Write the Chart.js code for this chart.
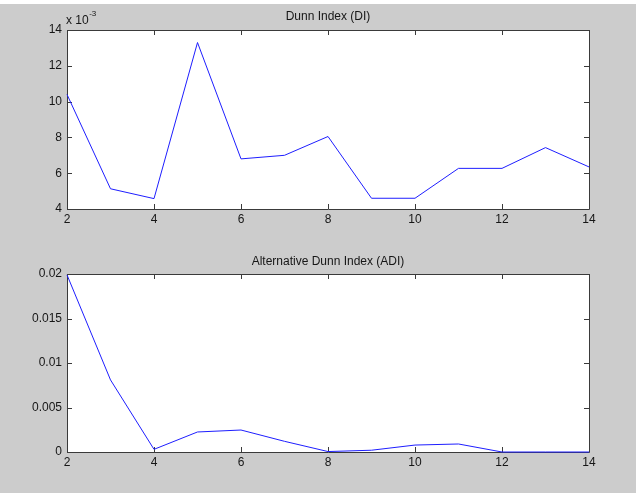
<!DOCTYPE html>
<html>
<head>
<meta charset="utf-8">
<script src="https://cdn.jsdelivr.net/npm/chart.js@4.4.1/dist/chart.umd.min.js"></script>
<style>
  html, body { margin: 0; padding: 0; background: #ffffff; }
  #fig { position: absolute; left: 0; top: 4px; width: 636px; height: 489px; background: #cccccc; }
  .panel { position: absolute; left: 0; width: 639px; }
  #p1 { top: 0; height: 246px; }
  #p2 { top: 246px; height: 247px; }
</style>
</head>
<body>
<div id="fig"></div>
<div class="panel" id="p1"><canvas id="c1"></canvas></div>
<div class="panel" id="p2"><canvas id="c2"></canvas></div>
<script>
// ---- data ----
const clusters = [2, 3, 4, 5, 6, 7, 8, 9, 10, 11, 12, 13, 14];
// Dunn Index, in units of 10^-3
const diValues = [10.4, 5.13, 4.58, 13.3, 6.8, 7.0, 8.05, 4.6, 4.6, 6.27, 6.27, 7.43, 6.35];
// Alternative Dunn Index
const adiValues = [0.0199, 0.0081, 0.0003, 0.00225, 0.00247, 0.0012, 0.00005, 0.0002, 0.00078, 0.0009, 0.0, 0.0, 0.0];
const xTicks = [2, 4, 6, 8, 10, 12, 14];
const diTicks = [4, 6, 8, 10, 12, 14];
const adiTicks = [0, 0.005, 0.01, 0.015, 0.02];
const diTitle = 'Dunn Index (DI)';
const adiTitle = 'Alternative Dunn Index (ADI)';
const diExponent = '-3';

const FONT = '"Liberation Sans", Arial, Helvetica, sans-serif';
const AXIS_COLOR = '#3a3a3a';
const TEXT_COLOR = '#161616';

const matlabAxes = {
  id: 'matlabAxes',
  beforeDraw(chart) {
    const { ctx, chartArea: a } = chart;
    ctx.save();
    ctx.fillStyle = '#ffffff';
    ctx.fillRect(a.left, a.top, a.right - a.left, a.bottom - a.top);
    ctx.restore();
  },
  beforeDatasetsDraw(chart) {
    const { ctx, chartArea: a } = chart;
    const xs = chart.scales.x, ys = chart.scales.y;
    const L = 5;
    ctx.save();
    ctx.strokeStyle = AXIS_COLOR;
    ctx.lineWidth = 1;
    ctx.beginPath();
    ctx.rect(Math.round(a.left) + 0.5, Math.round(a.top) + 0.5,
             Math.round(a.right - a.left), Math.round(a.bottom - a.top));
    xs.ticks.forEach(t => {
      const px = Math.round(xs.getPixelForValue(t.value)) + 0.5;
      ctx.moveTo(px, a.bottom); ctx.lineTo(px, a.bottom - L);
      ctx.moveTo(px, a.top); ctx.lineTo(px, a.top + L);
    });
    ys.ticks.forEach(t => {
      const py = Math.round(ys.getPixelForValue(t.value)) + 0.5;
      ctx.moveTo(a.left, py); ctx.lineTo(a.left + L, py);
      ctx.moveTo(a.right, py); ctx.lineTo(a.right - L, py);
    });
    ctx.stroke();
    ctx.restore();
  },
  afterDraw(chart) {
    const { ctx, chartArea: a } = chart;
    const o = chart.options.plugins.matlabAxes;
    ctx.save();
    ctx.fillStyle = TEXT_COLOR;
    ctx.font = '12px ' + FONT;
    ctx.textAlign = 'center';
    ctx.textBaseline = 'alphabetic';
    ctx.fillText(o.title, (a.left + a.right) / 2, a.top - o.titleGap);
    if (o.exponent) {
      ctx.textAlign = 'left';
      ctx.font = '12px ' + FONT;
      const base = 'x 10';
      ctx.fillText(base, a.left - 1, a.top - 6);
      const w = ctx.measureText(base).width;
      ctx.font = '8px ' + FONT;
      ctx.fillText(o.exponent, a.left - 1 + w + 0.5, a.top - 14);
    }
    ctx.restore();
  }
};

function makeChart(canvasId, values, yTicks, yMin, yMax, title, exponent, padTop, padBottom, titleGap) {
  return new Chart(document.getElementById(canvasId), {
    type: 'line',
    data: {
      datasets: [{
        data: clusters.map((x, i) => ({ x: x, y: values[i] })),
        borderColor: 'rgb(30,30,255)',
        borderWidth: 1,
        pointRadius: 0,
        tension: 0,
        fill: false,
        clip: false
      }]
    },
    options: {
      responsive: true,
      maintainAspectRatio: false,
      animation: false,
      events: [],
      layout: { padding: { left: 0, right: 50, top: padTop, bottom: padBottom } },
      plugins: {
        legend: { display: false },
        tooltip: { enabled: false },
        title: { display: false },
        matlabAxes: { title: title, exponent: exponent, titleGap: titleGap }
      },
      scales: {
        x: {
          type: 'linear',
          min: 2, max: 14,
          grid: { display: false, drawTicks: false },
          border: { display: false },
          afterBuildTicks: s => { s.ticks = xTicks.map(v => ({ value: v })); },
          afterFit: s => { s.height = 20; },
          ticks: {
            padding: 3,
            color: TEXT_COLOR,
            font: { family: FONT, size: 12 },
            maxRotation: 0,
            autoSkip: false,
            callback: v => String(v)
          }
        },
        y: {
          type: 'linear',
          min: yMin, max: yMax,
          grid: { display: false, drawTicks: false },
          border: { display: false },
          afterBuildTicks: s => { s.ticks = yTicks.map(v => ({ value: v })); },
          afterFit: s => { s.width = 67; },
          ticks: {
            padding: 5,
            color: TEXT_COLOR,
            font: { family: FONT, size: 12 },
            autoSkip: false,
            callback: v => String(v)
          }
        }
      }
    },
    plugins: [matlabAxes]
  });
}

makeChart('c1', diValues, diTicks, 4, 14, diTitle, diExponent, 30, 17, 10);
makeChart('c2', adiValues, adiTicks, 0, 0.02, adiTitle, null, 28, 21, 9);
</script>
</body>
</html>
